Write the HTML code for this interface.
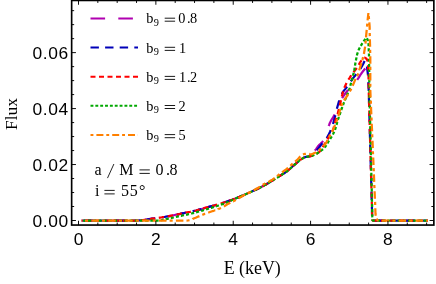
<!DOCTYPE html>
<html><head><meta charset="utf-8"><style>
html,body{margin:0;padding:0;background:#fff;}
svg{display:block;will-change:transform;}
text{fill:#000;}
.sans{font-family:"Liberation Sans",sans-serif;font-size:17.4px;}
.serif{font-family:"Liberation Serif",serif;}
</style></head><body>
<svg width="436" height="284" viewBox="0 0 436 284">
<rect width="436" height="284" fill="#fff"/>
<g fill="none" stroke-width="2.25" stroke-linejoin="round">
<path stroke="#b000b0" d="M81.6,220.5 L83.1,220.5 L84.6,220.5 L86.1,220.5 L87.6,220.5 L89.1,220.5 L90.6,220.5 L92.1,220.5 L93.6,220.5 L95.1,220.5 L95.6,220.5 M109.7,220.5 L110.1,220.5 L111.6,220.5 L113.1,220.5 L114.6,220.5 L116.1,220.5 L117.6,220.5 L119.1,220.5 L120.6,220.5 L122.1,220.5 L123.6,220.5 L125.1,220.5 L125.3,220.5 M139.4,220.4 L140.1,220.4 L141.6,220.2 L143.1,220.1 L144.6,219.8 L146.1,219.6 L147.6,219.4 L149.1,219.1 L150.6,218.9 L152.1,218.7 L153.7,218.5 L154.9,218.4 M168.9,216.1 L170.2,215.8 L171.7,215.6 L173.2,215.3 L174.7,215.0 L176.2,214.7 L177.7,214.4 L179.2,214.1 L180.7,213.8 L182.2,213.4 L183.7,213.1 L184.2,213.0 M198.0,210.0 L198.7,209.8 L200.2,209.4 L201.7,209.0 L203.2,208.5 L204.7,208.1 L206.2,207.6 L207.7,207.2 L209.2,206.8 L210.7,206.4 L212.2,206.0 L213.0,205.8 M226.5,201.6 L227.2,201.4 L228.7,200.9 L230.2,200.4 L231.7,199.9 L233.2,199.3 L234.7,198.8 L236.2,198.2 L237.7,197.6 L239.2,197.0 L240.7,196.4 L241.1,196.2 M254.0,190.4 L254.2,190.4 L255.7,189.7 L257.2,188.9 L258.7,188.2 L260.2,187.5 L261.7,186.7 L263.2,185.9 L264.7,185.1 L266.2,184.2 L267.7,183.4 L267.9,183.2 M279.9,175.8 L281.2,175.0 L282.7,174.1 L284.2,173.1 L285.7,172.1 L287.2,171.0 L288.7,169.8 L290.2,168.6 L291.7,167.2 L292.4,166.6 M314.9,150.6 L315.2,150.2 L315.5,149.8 L315.8,149.5 L316.1,149.1 L316.4,148.6 L316.7,148.2 L317.0,147.7 L317.3,147.3 L317.6,146.9 L317.9,146.5 L318.2,146.1 L318.5,145.8 L318.8,145.4 L319.1,145.1 L319.4,144.8 L319.7,144.6 L320.0,144.3 L320.3,144.0 L320.6,143.7 L320.9,143.5 L321.2,143.2 L321.5,142.9 L321.8,142.5 L322.1,142.2 L322.4,141.8 L322.7,141.4 L323.0,140.9 M328.7,126.0 L329.0,125.2 L329.3,124.5 L329.6,123.7 L329.9,122.9 L330.2,122.3 L330.5,121.6 L330.8,121.1 L331.1,120.5 L331.4,120.0 L331.7,119.5 L332.0,119.0 L332.3,118.5 L332.6,118.1 L332.9,117.6 L333.2,117.2 L333.5,116.7 L333.8,116.2 L334.1,115.7 L334.4,115.1 L334.7,114.5 M342.2,98.2 L342.5,97.6 L342.8,97.1 L343.1,96.6 L343.4,96.2 L343.7,95.7 L344.0,95.3 L344.3,94.9 L344.6,94.5 L344.9,94.0 L345.2,93.6 L345.5,93.3 L345.8,92.9 L346.1,92.5 L346.4,92.1 L346.7,91.7 L347.0,91.4 L347.3,91.0 L347.6,90.6 L347.9,90.3 L348.2,89.9 M357.2,79.8 L357.5,79.4 L357.8,79.0 L358.1,78.5 L358.4,78.1 L358.7,77.6 L359.0,77.1 L359.3,76.6 L359.6,76.2 L359.9,75.7 L360.2,75.2 L360.5,74.7 L360.8,74.3 L361.1,73.9 L361.4,73.4 L361.7,73.0 L362.0,72.6 L362.3,72.2 L362.6,71.8 L362.9,71.4 L363.2,71.1 L363.5,70.7 L363.8,70.3 L364.1,69.9 L364.4,69.6 L364.7,69.2 L365.0,68.8 L365.3,68.5 M372.7,220.5 H383 M399,220.5 H414.6"/>
<path stroke="#0000b8" d="M84.1,220.5 L84.6,220.5 L86.1,220.5 L87.6,220.5 L89.1,220.5 L90.6,220.5 L92.1,220.5 L93.1,220.5 M99.7,220.5 L101.2,220.5 L102.7,220.5 L104.2,220.5 L105.7,220.5 L107.2,220.5 L108.7,220.5 M115.3,220.5 L116.2,220.5 L117.8,220.5 L119.3,220.5 L120.8,220.5 L122.3,220.5 L123.8,220.5 L124.3,220.5 M130.9,220.5 L131.3,220.5 L132.8,220.5 L134.3,220.5 L135.8,220.5 L137.3,220.5 L138.8,220.4 L139.9,220.4 M146.5,219.5 L147.9,219.3 L149.4,219.1 L150.9,218.9 L152.4,218.7 L153.9,218.5 L155.4,218.3 M162.0,217.4 L162.9,217.2 L164.5,217.0 L166.0,216.7 L167.5,216.4 L169.0,216.1 L170.5,215.8 L170.8,215.7 M177.3,214.4 L178.0,214.3 L179.5,214.0 L181.0,213.7 L182.5,213.4 L184.0,213.1 L185.5,212.7 L186.1,212.6 M192.6,211.2 L193.1,211.1 L194.6,210.8 L196.1,210.5 L197.6,210.1 L199.1,209.7 L200.6,209.3 L201.3,209.1 M207.7,207.2 L208.1,207.1 L209.6,206.7 L211.1,206.3 L212.7,205.9 L214.2,205.5 L215.7,205.1 L216.4,204.8 M222.7,202.9 L223.2,202.7 L224.7,202.2 L226.2,201.7 L227.7,201.2 L229.2,200.7 L230.7,200.2 L231.2,200.0 M237.4,197.7 L238.3,197.4 L239.8,196.8 L241.3,196.1 L242.8,195.5 L244.3,194.8 L245.7,194.2 M251.8,191.5 L251.8,191.5 L253.3,190.8 L254.8,190.1 L256.3,189.4 L257.8,188.6 L259.4,187.9 L259.9,187.6 M265.7,184.5 L266.9,183.9 L268.4,183.0 L269.9,182.0 L271.4,181.1 L272.9,180.2 L273.4,179.9 M279.1,176.4 L280.4,175.5 L281.9,174.6 L283.5,173.6 L285.0,172.6 L286.5,171.6 L286.6,171.5 M291.7,167.2 L292.5,166.5 L294.0,165.2 L295.5,163.9 L297.0,162.7 L298.5,161.4 L298.5,161.4 M304.0,157.6 L304.5,157.3 L306.1,156.9 L307.6,156.6 L309.1,156.4 L310.6,156.1 L312.1,155.7 L312.6,155.3 M316.9,150.3 L318.1,148.8 L319.6,146.8 L321.1,144.9 L322.4,143.2 M326.6,138.1 L327.1,137.5 L328.6,134.9 L330.2,131.5 L330.7,130.2 M333.0,124.0 L333.2,123.4 L334.7,118.0 L335.3,115.3 M336.9,108.8 L337.7,105.7 L339.2,100.6 L339.3,100.2 M341.9,94.1 L342.2,93.4 L343.7,90.9 L345.2,89.1 L346.7,87.2 L347.1,86.7 M350.9,81.3 L351.2,80.8 L352.7,78.6 L354.3,76.6 L355.8,74.9 L356.3,74.2 M360.3,68.9 L360.3,68.9 L361.8,66.4 L363.3,63.7 L364.6,61.0 M366.9,66.5 L367.1,67.6 L368.0,75.0 L368.0,75.4 M368.3,82.1 L368.7,90.0 L368.7,91.0 M368.9,97.7 L369.2,106.7 M369.3,113.3 L369.6,122.3 M369.8,128.9 L370.0,137.9 M370.2,144.5 L370.4,153.5 M370.6,160.1 L370.9,169.1 M371.1,175.7 L371.3,184.7 M371.5,191.4 L371.7,200.3 M371.9,207.0 L372.0,210.0 L372.1,216.0 M374.6,220.5 L383.6,220.5 M390.3,220.5 L399.3,220.5 M405.9,220.5 L414.9,220.5 M421.5,220.5 L427.9,220.5"/>
<path stroke="#ff0000" d="M81.6,220.5 L82.5,220.5 M86.2,220.5 L87.6,220.5 L89.1,220.5 L90.6,220.5 L91.5,220.5 M95.3,220.5 L96.7,220.5 L98.2,220.5 L99.7,220.5 L100.6,220.5 M104.4,220.5 L105.7,220.5 L107.2,220.5 L108.7,220.5 L109.7,220.5 M113.5,220.5 L114.7,220.5 L116.2,220.5 L117.8,220.5 L118.8,220.5 M122.6,220.5 L123.8,220.5 L125.3,220.5 L126.8,220.5 L127.9,220.5 M131.7,220.5 L132.8,220.5 L134.3,220.5 L135.8,220.5 L137.0,220.5 M140.8,220.3 L141.9,220.2 L143.4,220.0 L144.9,219.8 L146.1,219.6 M149.8,219.0 L150.9,218.9 L152.4,218.7 L153.9,218.5 L155.1,218.3 M158.8,217.9 L159.9,217.7 L161.4,217.5 L162.9,217.2 L164.1,217.0 M167.7,216.3 L169.0,216.1 L170.5,215.8 L172.0,215.5 L173.0,215.3 M176.7,214.6 L178.0,214.3 L179.5,214.0 L181.0,213.7 L181.9,213.5 M185.6,212.7 L187.0,212.4 L188.6,212.1 L190.1,211.8 L190.8,211.6 M194.5,210.8 L194.6,210.8 L196.1,210.5 L197.6,210.1 L199.1,209.7 L199.7,209.5 M203.3,208.5 L203.6,208.4 L205.1,207.9 L206.6,207.5 L208.1,207.1 L208.4,207.0 M212.0,206.1 L212.7,205.9 L214.2,205.5 L215.7,205.1 L217.2,204.6 M220.7,203.5 L221.7,203.2 L223.2,202.7 L224.7,202.2 L225.8,201.8 M229.4,200.7 L230.7,200.2 L232.2,199.7 L233.7,199.1 L234.4,198.9 M237.9,197.5 L238.3,197.4 L239.8,196.8 L241.3,196.1 L242.8,195.5 L242.8,195.4 M246.3,193.9 L247.3,193.5 L248.8,192.8 L250.3,192.2 L251.2,191.8 M254.6,190.2 L254.8,190.1 L256.3,189.4 L257.8,188.6 L259.4,187.9 L259.4,187.9 M262.7,186.2 L263.9,185.6 L265.4,184.7 L266.9,183.9 L267.4,183.6 M270.6,181.6 L271.4,181.1 L272.9,180.2 L274.4,179.3 L275.2,178.8 M278.3,176.8 L278.9,176.5 L280.4,175.5 L281.9,174.6 L282.9,174.0 M286.0,171.9 L286.5,171.6 L288.0,170.4 L289.5,169.2 L290.2,168.6 M293.0,166.1 L294.0,165.2 L295.5,163.9 L297.0,162.7 L297.0,162.6 M299.9,160.3 L300.0,160.2 L301.5,159.1 L303.0,158.1 L304.4,157.4 M308.1,156.6 L309.1,156.4 L310.6,156.1 L312.1,155.7 L313.2,155.3 M316.7,153.7 L318.1,152.8 L319.6,151.6 L320.6,150.2 M322.7,147.1 L324.1,144.9 L325.6,142.6 M327.5,139.4 L328.6,137.4 L330.1,134.7 M332.1,131.5 L333.2,129.5 L334.0,126.6 M335.0,123.0 L336.2,118.0 L336.3,117.8 M337.5,114.2 L337.7,113.8 L338.9,109.1 M339.8,105.4 L340.7,101.5 L341.0,100.2 M341.8,96.6 L342.2,94.9 L343.1,91.4 M344.3,87.8 L345.2,85.9 L346.5,83.0 M348.4,79.7 L349.7,77.9 L351.2,75.2 M353.5,72.2 L354.3,71.2 L355.8,69.4 L356.8,68.0 M358.8,64.9 L360.3,62.1 L361.6,60.4 M364.5,57.9 L364.8,57.7 L366.5,58.8 L367.9,61.4 M368.1,65.1 L368.3,70.4 M368.4,74.2 L368.5,76.0 L368.6,79.5 M368.6,83.3 L368.7,88.6 M368.8,92.4 L368.9,97.7 M369.0,101.4 L369.2,106.8 M369.3,110.5 L369.4,115.9 M369.5,119.6 L369.7,125.0 M369.8,128.7 L369.9,134.1 M370.0,137.8 L370.2,143.2 M370.3,146.9 L370.4,152.2 M370.5,156.0 L370.7,161.3 M370.8,165.1 L370.9,170.4 M371.0,174.2 L371.2,179.5 M371.3,183.3 L371.4,188.6 M371.5,192.4 L371.7,197.7 M371.8,201.4 L371.9,206.8 M372.0,210.5 L372.1,215.9 M372.2,219.6 L372.2,219.8 L372.7,220.5 L377.0,220.5 M380.8,220.5 L386.1,220.5 M389.9,220.5 L395.2,220.5 M399.0,220.5 L404.3,220.5 M408.1,220.5 L413.4,220.5 M417.1,220.5 L422.5,220.5 M426.2,220.5 L427.9,220.5"/>
<path stroke="#00a800" d="M82.8,220.5 L83.1,220.5 L84.6,220.5 L85.9,220.5 M88.0,220.5 L89.1,220.5 L90.6,220.5 L91.1,220.5 M93.2,220.5 L93.6,220.5 L95.2,220.5 L96.3,220.5 M98.4,220.5 L99.7,220.5 L101.2,220.5 L101.5,220.5 M103.6,220.5 L104.2,220.5 L105.7,220.5 L106.7,220.5 M108.8,220.5 L110.2,220.5 L111.7,220.5 L111.9,220.5 M114.0,220.5 L114.7,220.5 L116.2,220.5 L117.1,220.5 M119.1,220.5 L119.2,220.5 L120.8,220.5 L122.2,220.5 M124.3,220.5 L125.3,220.5 L126.8,220.5 L127.4,220.5 M129.5,220.5 L129.8,220.5 L131.3,220.5 L132.6,220.5 M134.7,220.5 L135.8,220.5 L137.3,220.5 L137.8,220.5 M139.9,220.5 L140.3,220.5 L141.8,220.5 L143.0,220.5 M145.1,220.5 L146.4,220.5 L147.9,220.5 L148.2,220.5 M150.3,220.5 L150.9,220.5 L152.4,220.5 L153.4,220.5 M155.5,220.5 L156.9,220.5 L158.4,220.5 L158.6,220.5 M160.7,220.3 L161.4,220.2 L162.9,219.9 L163.7,219.7 M165.7,219.3 L165.9,219.2 L167.4,218.9 L168.8,218.5 M170.8,218.1 L171.9,217.8 L173.5,217.5 L173.8,217.4 M175.9,217.0 L176.5,216.8 L178.0,216.5 L178.9,216.3 M180.9,215.9 L181.0,215.9 L182.5,215.5 L184.0,215.2 M186.0,214.8 L187.0,214.6 L188.5,214.2 L189.0,214.1 M191.1,213.6 L191.5,213.5 L193.0,213.1 L194.1,212.8 M196.1,212.3 L197.5,211.9 L199.1,211.5 L199.1,211.5 M201.1,210.9 L202.1,210.6 L203.6,210.1 L204.0,210.0 M206.0,209.4 L206.6,209.2 L208.1,208.8 L209.0,208.5 M211.0,207.9 L211.1,207.9 L212.6,207.4 L214.0,207.0 M216.0,206.3 L217.1,206.0 L218.6,205.5 L218.9,205.4 M220.9,204.7 L221.6,204.4 L223.1,203.9 L223.8,203.6 M225.7,202.9 L226.2,202.7 L227.7,202.1 L228.6,201.6 M230.5,200.8 L230.7,200.7 L232.2,200.0 L233.3,199.5 M235.2,198.6 L236.7,198.0 L238.1,197.4 M240.0,196.6 L241.2,196.1 L242.7,195.5 L242.9,195.4 M244.8,194.6 L245.7,194.2 L247.2,193.5 L247.6,193.4 M249.5,192.5 L250.3,192.2 L251.8,191.5 L252.4,191.2 M254.2,190.4 L254.8,190.1 L256.3,189.4 L257.0,189.0 M258.9,188.1 L259.3,187.9 L260.8,187.2 L261.7,186.7 M263.5,185.7 L263.8,185.6 L265.3,184.8 L266.2,184.2 M268.0,183.2 L268.3,183.0 L269.8,182.1 L270.7,181.6 M272.5,180.5 L272.8,180.2 L274.3,179.3 L275.1,178.8 M276.9,177.7 L277.4,177.5 L278.9,176.5 L279.5,176.1 M281.3,175.0 L281.9,174.6 L283.4,173.6 L283.9,173.3 M285.6,172.1 L286.4,171.6 L287.9,170.5 L288.1,170.3 M289.8,169.0 L290.9,168.0 L292.1,166.9 M293.6,165.5 L293.9,165.2 L295.4,164.0 L296.0,163.5 M297.6,162.2 L298.4,161.5 L299.9,160.2 L300.0,160.2 M301.7,159.0 L303.0,158.2 L304.3,157.4 M306.3,156.8 L307.5,156.6 L309.0,156.4 L309.4,156.3 M311.4,155.8 L312.0,155.7 L313.5,155.2 L314.3,154.8 M316.2,153.9 L316.5,153.8 L318.0,152.8 L318.8,152.2 M320.6,151.1 L321.0,150.7 L322.5,149.5 L323.0,149.1 M324.4,147.6 L325.5,146.4 L326.3,145.2 M327.4,143.4 L328.6,141.3 L329.0,140.7 M330.2,139.0 L331.6,136.7 L331.8,136.4 M332.8,134.5 L333.1,134.0 L334.2,131.8 M335.0,129.8 L335.9,126.9 M336.5,124.9 L337.3,121.9 M337.9,119.9 L338.9,117.0 M339.6,115.0 L340.6,112.0 M341.2,110.0 L342.1,107.5 L342.2,107.1 M343.0,105.2 L343.6,103.4 L344.1,102.3 M344.9,100.3 L345.1,99.7 L346.1,97.5 M346.9,95.5 L348.0,92.7 M348.8,90.7 L349.6,88.8 L349.9,87.8 M350.3,85.8 L351.1,82.8 M351.6,80.8 L352.5,77.8 M353.0,75.8 L353.7,72.7 M354.1,70.7 L354.2,70.6 L354.7,67.6 M355.0,65.6 L355.5,62.5 M355.9,60.5 L356.5,57.4 M356.9,55.4 L357.2,54.1 L357.8,52.4 M358.5,50.4 L358.7,49.8 L359.8,47.6 M360.8,45.8 L361.7,44.3 L362.4,43.2 M363.6,41.4 L364.7,39.8 L365.4,38.9 M366.7,38.3 L367.6,39.5 L367.9,41.1 M368.4,43.1 L368.5,43.8 L368.6,46.2 M368.7,48.3 L368.8,51.4 M368.9,53.5 L369.0,54.8 L369.0,56.6 M369.0,58.7 L369.1,61.8 M369.1,63.9 L369.1,67.0 M369.2,69.0 L369.2,72.1 M369.2,74.2 L369.3,77.3 M369.3,79.4 L369.3,82.5 M369.3,84.6 L369.4,87.7 M369.4,89.8 L369.4,90.0 L369.5,92.9 M369.5,95.0 L369.6,98.1 M369.6,100.2 L369.7,103.3 M369.8,105.4 L369.8,108.5 M369.9,110.6 L370.0,113.7 M370.0,115.7 L370.1,118.8 M370.1,120.9 L370.2,124.0 M370.2,126.1 L370.3,129.2 M370.4,131.3 L370.4,134.4 M370.5,136.5 L370.6,139.6 M370.6,141.7 L370.7,144.8 M370.7,146.9 L370.8,150.0 M370.8,152.1 L370.9,155.2 M371.0,157.2 L371.0,160.3 M371.1,162.4 L371.2,165.5 M371.2,167.6 L371.3,170.7 M371.3,172.8 L371.4,175.9 M371.5,178.0 L371.5,181.1 M371.6,183.2 L371.6,186.3 M371.7,188.4 L371.8,191.5 M371.8,193.6 L371.9,196.7 M371.9,198.7 L372.0,201.8 M372.1,203.9 L372.1,207.0 M372.2,209.1 L372.2,210.0 L372.2,212.2 M372.2,214.3 L372.3,217.4 M372.3,219.5 L372.3,219.8 L372.9,220.5 L374.8,220.5 M376.9,220.5 L380.0,220.5 M382.1,220.5 L385.2,220.5 M387.2,220.5 L390.4,220.5 M392.4,220.5 L395.5,220.5 M397.6,220.5 L400.7,220.5 M402.8,220.5 L405.9,220.5 M408.0,220.5 L411.1,220.5 M413.2,220.5 L416.3,220.5 M418.4,220.5 L421.5,220.5 M423.6,220.5 L426.7,220.5"/>
<path stroke="#ff8000" d="M81.6,220.7 L81.9,220.7 M85.0,220.7 L86.1,220.7 L87.6,220.7 L88.1,220.7 M91.4,220.7 L92.1,220.7 L93.6,220.7 L95.1,220.7 L96.6,220.7 L98.1,220.7 L98.8,220.7 M101.9,220.7 L102.6,220.7 L104.1,220.7 L105.0,220.7 M108.3,220.7 L108.6,220.7 L110.1,220.7 L111.6,220.7 L113.1,220.7 L114.6,220.7 L115.7,220.7 M118.9,220.7 L119.1,220.7 L120.6,220.7 L122.0,220.7 M125.2,220.7 L126.6,220.7 L128.1,220.7 L129.7,220.7 L131.2,220.7 L132.7,220.7 L132.7,220.7 M135.8,220.7 L137.2,220.7 L138.7,220.7 L138.9,220.7 M142.1,220.7 L143.2,220.7 L144.7,220.7 L146.2,220.7 L147.7,220.7 L149.2,220.7 L149.6,220.7 M152.7,220.7 L153.7,220.7 L155.2,220.7 L155.8,220.7 M159.0,220.7 L159.7,220.7 L161.2,220.7 L162.7,220.7 L164.2,220.7 L165.7,220.7 L166.5,220.7 M169.6,220.7 L170.2,220.7 L171.7,220.7 L172.7,220.7 M175.9,220.7 L176.2,220.7 L177.7,220.7 L179.2,220.7 L180.7,220.7 L182.2,220.7 L183.4,220.7 M186.5,220.6 L186.7,220.6 L188.2,220.5 L189.5,220.2 M192.6,219.2 L192.7,219.1 L194.2,218.3 L195.7,217.7 L197.2,217.0 L198.7,216.4 L199.4,216.1 M202.3,214.9 L203.2,214.5 L204.7,213.9 L205.2,213.8 M208.2,212.7 L209.2,212.3 L210.7,211.7 L212.2,211.2 L213.7,210.8 L215.2,210.3 L215.3,210.3 M218.2,209.2 L218.2,209.1 L219.7,208.5 L221.0,207.9 M223.9,206.5 L224.2,206.3 L225.8,205.3 L227.3,204.3 L228.8,203.5 L230.3,202.7 L230.3,202.7 M233.1,201.3 L233.3,201.3 L234.8,200.5 L235.9,200.0 M238.7,198.4 L239.3,198.0 L240.8,197.1 L242.3,196.2 L243.8,195.3 L245.1,194.6 M247.9,193.2 L248.3,193.0 L249.8,192.3 L250.7,191.8 M253.6,190.4 L254.3,190.0 L255.8,189.1 L257.3,188.3 L258.8,187.4 L260.0,186.6 M262.7,184.9 L263.3,184.5 L264.8,183.6 L265.3,183.3 M268.2,182.0 L269.3,181.4 L270.8,180.5 L272.3,179.6 L273.8,178.6 L274.6,178.0 M277.0,176.2 L278.3,175.2 L279.5,174.2 M282.0,172.3 L282.8,171.8 L284.3,170.7 L285.8,169.6 L287.3,168.4 L288.1,167.8 M290.4,165.8 L291.8,164.4 L292.7,163.7 M295.1,161.7 L296.3,160.7 L297.8,159.4 L299.3,157.5 L300.4,156.4 M303.0,154.6 L303.8,154.2 L305.3,153.9 L305.9,153.8 M309.1,153.9 L309.8,154.1 L311.3,154.3 L312.8,153.9 L314.3,153.1 L315.8,152.4 L316.1,152.2 M318.7,150.5 L318.8,150.4 L320.3,149.2 L321.1,148.6 M323.4,146.3 L324.9,144.6 L326.4,142.3 L327.5,140.1 M328.9,137.3 L329.4,136.5 L330.5,134.6 M332.0,131.8 L332.4,131.2 L333.9,127.9 L335.1,125.0 M336.2,122.1 L336.9,120.4 L337.3,119.2 M338.3,116.1 L338.4,116.0 L339.9,110.4 L340.4,108.9 M341.3,106.0 L341.4,105.8 L342.5,103.1 M344.1,100.3 L344.4,99.8 L345.9,97.6 L347.4,95.5 L348.2,94.1 M349.8,91.4 L350.4,90.5 L351.3,88.7 M352.6,85.8 L353.4,84.1 L354.9,80.3 L355.6,78.9 M357.1,76.2 L357.9,74.6 L358.3,73.3 M359.2,70.3 L359.4,69.7 L360.9,64.9 L361.4,63.1 M362.3,60.1 L362.4,59.8 L363.1,57.1 M363.9,54.0 L365.1,46.6 M365.5,43.6 L365.8,40.5 M366.0,37.3 L366.7,29.8 M367.0,26.7 L367.3,23.6 M367.6,20.4 L368.4,13.0 L368.4,13.0 M368.7,16.1 L369.0,19.2 M369.3,22.4 L369.6,26.0 L369.7,29.9 M369.7,33.0 L369.8,36.1 M369.9,39.3 L369.9,41.0 L370.1,46.8 M370.1,49.9 L370.2,53.0 M370.3,56.2 L370.3,63.7 M370.3,66.8 L370.3,69.9 M370.3,73.1 L370.3,80.6 M370.3,83.7 L370.3,86.8 M370.3,90.0 L370.3,90.0 L370.6,97.5 M370.8,100.6 L370.9,103.7 M371.0,106.9 L371.3,114.4 M371.5,117.5 L371.6,120.6 M371.7,123.8 L372.1,131.2 M372.2,134.3 L372.3,137.4 M372.5,140.7 L372.8,148.1 M372.9,151.2 L373.0,154.3 M373.2,157.5 L373.5,165.0 M373.6,168.1 L373.8,171.2 M373.9,174.4 L374.2,181.9 M374.3,185.0 L374.5,188.1 M374.6,191.3 L374.9,198.8 M375.1,201.9 L375.2,205.0 L375.2,205.0 M375.3,208.2 L375.5,214.0 L375.8,215.7 M376.4,218.7 L378.0,220.6 L378.6,220.6 M381.8,220.6 L389.3,220.6 M392.4,220.6 L395.5,220.6 M398.7,220.6 L406.2,220.6 M409.3,220.6 L412.4,220.6 M415.6,220.6 L423.1,220.6 M426.2,220.6 L427.9,220.6"/>
</g>
<rect x="71.65" y="0.45" width="362.20" height="224.60" fill="none" stroke="#000" stroke-width="1.65"/>
<g stroke="#000" stroke-width="0.95">
<line x1="78.50" y1="225.05" x2="78.50" y2="220.75"/>
<line x1="78.50" y1="0.45" x2="78.50" y2="4.75"/>
<line x1="97.84" y1="225.05" x2="97.84" y2="222.55"/>
<line x1="97.84" y1="0.45" x2="97.84" y2="2.95"/>
<line x1="117.18" y1="225.05" x2="117.18" y2="222.55"/>
<line x1="117.18" y1="0.45" x2="117.18" y2="2.95"/>
<line x1="136.52" y1="225.05" x2="136.52" y2="222.55"/>
<line x1="136.52" y1="0.45" x2="136.52" y2="2.95"/>
<line x1="155.86" y1="225.05" x2="155.86" y2="220.75"/>
<line x1="155.86" y1="0.45" x2="155.86" y2="4.75"/>
<line x1="175.20" y1="225.05" x2="175.20" y2="222.55"/>
<line x1="175.20" y1="0.45" x2="175.20" y2="2.95"/>
<line x1="194.54" y1="225.05" x2="194.54" y2="222.55"/>
<line x1="194.54" y1="0.45" x2="194.54" y2="2.95"/>
<line x1="213.88" y1="225.05" x2="213.88" y2="222.55"/>
<line x1="213.88" y1="0.45" x2="213.88" y2="2.95"/>
<line x1="233.22" y1="225.05" x2="233.22" y2="220.75"/>
<line x1="233.22" y1="0.45" x2="233.22" y2="4.75"/>
<line x1="252.56" y1="225.05" x2="252.56" y2="222.55"/>
<line x1="252.56" y1="0.45" x2="252.56" y2="2.95"/>
<line x1="271.90" y1="225.05" x2="271.90" y2="222.55"/>
<line x1="271.90" y1="0.45" x2="271.90" y2="2.95"/>
<line x1="291.24" y1="225.05" x2="291.24" y2="222.55"/>
<line x1="291.24" y1="0.45" x2="291.24" y2="2.95"/>
<line x1="310.58" y1="225.05" x2="310.58" y2="220.75"/>
<line x1="310.58" y1="0.45" x2="310.58" y2="4.75"/>
<line x1="329.92" y1="225.05" x2="329.92" y2="222.55"/>
<line x1="329.92" y1="0.45" x2="329.92" y2="2.95"/>
<line x1="349.26" y1="225.05" x2="349.26" y2="222.55"/>
<line x1="349.26" y1="0.45" x2="349.26" y2="2.95"/>
<line x1="368.60" y1="225.05" x2="368.60" y2="222.55"/>
<line x1="368.60" y1="0.45" x2="368.60" y2="2.95"/>
<line x1="387.94" y1="225.05" x2="387.94" y2="220.75"/>
<line x1="387.94" y1="0.45" x2="387.94" y2="4.75"/>
<line x1="407.28" y1="225.05" x2="407.28" y2="222.55"/>
<line x1="407.28" y1="0.45" x2="407.28" y2="2.95"/>
<line x1="426.62" y1="225.05" x2="426.62" y2="222.55"/>
<line x1="426.62" y1="0.45" x2="426.62" y2="2.95"/>
<line x1="71.65" y1="220.50" x2="75.95" y2="220.50"/>
<line x1="433.85" y1="220.50" x2="429.55" y2="220.50"/>
<line x1="71.65" y1="206.51" x2="74.15" y2="206.51"/>
<line x1="433.85" y1="206.51" x2="431.35" y2="206.51"/>
<line x1="71.65" y1="192.52" x2="74.15" y2="192.52"/>
<line x1="433.85" y1="192.52" x2="431.35" y2="192.52"/>
<line x1="71.65" y1="178.53" x2="74.15" y2="178.53"/>
<line x1="433.85" y1="178.53" x2="431.35" y2="178.53"/>
<line x1="71.65" y1="164.54" x2="75.95" y2="164.54"/>
<line x1="433.85" y1="164.54" x2="429.55" y2="164.54"/>
<line x1="71.65" y1="150.55" x2="74.15" y2="150.55"/>
<line x1="433.85" y1="150.55" x2="431.35" y2="150.55"/>
<line x1="71.65" y1="136.56" x2="74.15" y2="136.56"/>
<line x1="433.85" y1="136.56" x2="431.35" y2="136.56"/>
<line x1="71.65" y1="122.57" x2="74.15" y2="122.57"/>
<line x1="433.85" y1="122.57" x2="431.35" y2="122.57"/>
<line x1="71.65" y1="108.58" x2="75.95" y2="108.58"/>
<line x1="433.85" y1="108.58" x2="429.55" y2="108.58"/>
<line x1="71.65" y1="94.59" x2="74.15" y2="94.59"/>
<line x1="433.85" y1="94.59" x2="431.35" y2="94.59"/>
<line x1="71.65" y1="80.60" x2="74.15" y2="80.60"/>
<line x1="433.85" y1="80.60" x2="431.35" y2="80.60"/>
<line x1="71.65" y1="66.61" x2="74.15" y2="66.61"/>
<line x1="433.85" y1="66.61" x2="431.35" y2="66.61"/>
<line x1="71.65" y1="52.62" x2="75.95" y2="52.62"/>
<line x1="433.85" y1="52.62" x2="429.55" y2="52.62"/>
<line x1="71.65" y1="38.63" x2="74.15" y2="38.63"/>
<line x1="433.85" y1="38.63" x2="431.35" y2="38.63"/>
<line x1="71.65" y1="24.64" x2="74.15" y2="24.64"/>
<line x1="433.85" y1="24.64" x2="431.35" y2="24.64"/>
<line x1="71.65" y1="10.65" x2="74.15" y2="10.65"/>
<line x1="433.85" y1="10.65" x2="431.35" y2="10.65"/>
</g>
<g class="sans" text-anchor="end" letter-spacing="0.6">
<text x="68.8" y="227.2">0.00</text>
<text x="68.8" y="171.2">0.02</text>
<text x="68.8" y="115.2">0.04</text>
<text x="68.8" y="59.2">0.06</text>
</g>
<g class="sans" text-anchor="middle">
<text x="78.5" y="245.2">0</text>
<text x="155.9" y="245.2">2</text>
<text x="233.2" y="245.2">4</text>
<text x="310.6" y="245.2">6</text>
<text x="387.9" y="245.2">8</text>
</g>
<text class="serif" font-size="17.9" x="223.7" y="273.8">E (keV)</text>
<text class="serif" font-size="17.4" transform="translate(16.8,130) rotate(-90)">Flux</text>
<!-- legend -->
<g fill="none" stroke-width="2.0">
<path stroke="#b000b0" stroke-dasharray="14.6 13.2" d="M90.5,18.5 H138"/>
<path stroke="#0000b8" stroke-dasharray="8.4 6.2" d="M90.5,47.6 H138"/>
<path stroke="#ff0000" stroke-dasharray="5 3.5" d="M90.5,76.7 H138"/>
<path stroke="#00a800" stroke-dasharray="2.9 1.95" d="M90.5,105.8 H138"/>
<path stroke="#ff8000" stroke-dasharray="2.9 3 7 2.9" d="M90.5,134.9 H138"/>
</g>
<g class="serif" font-size="14.3">
<text x="146.3" y="23.4">b<tspan font-size="10.3" dy="2.4" dx="0.3">9</tspan></text>
<path d="M164.7,18.2 h10.4 M164.7,21.2 h10.4" stroke="#000" stroke-width="0.9" fill="none"/>
<text x="178.2 187.0 190.0" y="23.4">0.8</text>
<text x="146.3" y="52.5">b<tspan font-size="10.3" dy="2.4" dx="0.3">9</tspan></text>
<path d="M164.7,47.3 h10.4 M164.7,50.4 h10.4" stroke="#000" stroke-width="0.9" fill="none"/>
<text x="178.9" y="52.5">1</text>
<text x="146.3" y="81.6">b<tspan font-size="10.3" dy="2.4" dx="0.3">9</tspan></text>
<path d="M164.7,76.4 h10.4 M164.7,79.4 h10.4" stroke="#000" stroke-width="0.9" fill="none"/>
<text x="178.9 187.0 190.0" y="81.6">1.2</text>
<text x="146.3" y="110.7">b<tspan font-size="10.3" dy="2.4" dx="0.3">9</tspan></text>
<path d="M164.7,105.5 h10.4 M164.7,108.5 h10.4" stroke="#000" stroke-width="0.9" fill="none"/>
<text x="178.4" y="110.7">2</text>
<text x="146.3" y="139.8">b<tspan font-size="10.3" dy="2.4" dx="0.3">9</tspan></text>
<path d="M164.7,134.6 h10.4 M164.7,137.7 h10.4" stroke="#000" stroke-width="0.9" fill="none"/>
<text x="178.4" y="139.8">5</text>
</g>
<g class="serif" font-size="16">
<text x="94.5" y="175.3">a</text>
<path d="M107.5,178.1 L113.9,164.0" stroke="#000" stroke-width="0.85" fill="none"/>
<text x="119.3" y="175.3">M</text>
<path d="M139.5,169.9 h10.3 M139.5,173.4 h10.3" stroke="#000" stroke-width="0.9" fill="none"/>
<text x="155.5 165.9 169.4" y="175.3">0.8</text>
<text x="95.1" y="196.4">i</text>
<path d="M104.4,190.4 h10.3 M104.4,193.9 h10.3" stroke="#000" stroke-width="0.9" fill="none"/>
<text x="121.1 129.8 139.0" y="196.4">55°</text>
</g>
</svg>
</body></html>
